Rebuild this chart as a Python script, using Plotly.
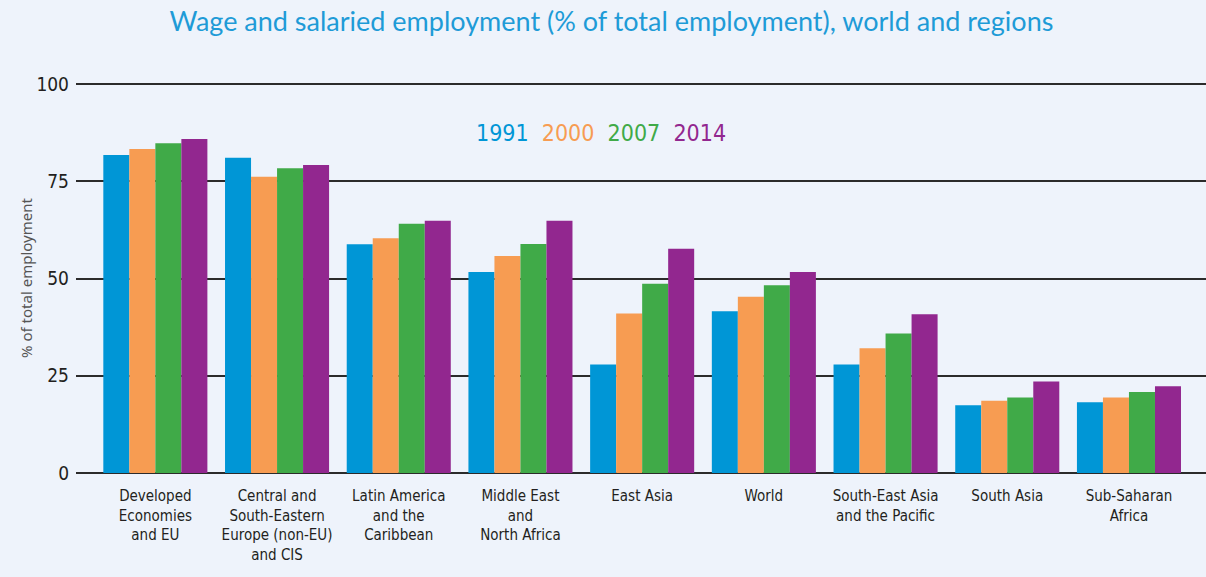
import plotly.graph_objects as go

regions = [
    "Developed<br>Economies<br>and EU",
    "Central and<br>South-Eastern<br>Europe (non-EU)<br>and CIS",
    "Latin America<br>and the<br>Caribbean",
    "Middle East<br>and<br>North Africa",
    "East Asia",
    "World",
    "South-East Asia<br>and the Pacific",
    "South Asia",
    "Sub-Saharan<br>Africa",
]
years = ["1991", "2000", "2007", "2014"]
v1991 = [81.8, 81.1, 58.8, 51.7, 27.9, 41.6, 27.9, 17.4, 18.2]
v2000 = [83.3, 76.2, 60.4, 55.8, 41.0, 45.3, 32.1, 18.6, 19.4]
v2007 = [84.8, 78.4, 64.1, 58.9, 48.7, 48.3, 35.9, 19.4, 20.8]
v2014 = [85.9, 79.2, 64.9, 64.9, 57.7, 51.7, 40.8, 23.5, 22.3]
yticks = [0, 25, 50, 75, 100]

colors = ["#0096D6", "#F79C52", "#40AA48", "#92278F"]
series = [v1991, v2000, v2007, v2014]
narrow = "DejaVu Sans Condensed, Liberation Sans Narrow, Arial Narrow, sans-serif"

fig = go.Figure()
for yr, vals, c in zip(years, series, colors):
    fig.add_trace(go.Bar(x=regions, y=vals, name=yr, marker=dict(color=c, line=dict(width=0))))

# legend drawn as coloured year labels
legend_txt = "&nbsp;&nbsp;".join(
    f"<span style='color:{c}'>{yr}</span>" for yr, c in zip(years, colors)
)
fig.add_annotation(text=legend_txt, xref="paper", yref="paper", x=0.465, y=0.872,
                   yanchor="middle", showarrow=False, font=dict(family=narrow, size=23))

fig.update_layout(
    width=1206, height=577,
    paper_bgcolor="#EEF3FB", plot_bgcolor="#EEF3FB",
    barmode="group", bargap=0.145, bargroupgap=0,
    showlegend=False,
    margin=dict(l=76, r=0, t=83, b=104),
    title=dict(text="Wage and salaried employment (% of total employment), world and regions",
               x=0.507, xanchor="center", y=0.962, yanchor="middle",
               font=dict(family="Lato, Noto Sans, sans-serif", size=27, color="#1E9BD7")),
)
fig.update_xaxes(range=[-0.652, 8.633], showgrid=False, showline=False, ticks="",
                 ticklabelstandoff=12,
                 tickfont=dict(family=narrow, size=15, color="#231F20"))
fig.update_yaxes(range=[0, 100.3], tickvals=yticks, showgrid=True, gridcolor="#2B2B2B",
                 gridwidth=1.5, zeroline=True, zerolinecolor="#2B2B2B", zerolinewidth=1.5,
                 ticks="", ticklabelstandoff=6,
                 tickfont=dict(family=narrow, size=19, color="#231F20"),
                 title=dict(text="% of total employment", standoff=0,
                            font=dict(family="Noto Sans, sans-serif", size=15, color="#555555")))

fig.write_html("out.html", config={"displayModeBar": False},
               post_script="document.body.style.margin='0';")
